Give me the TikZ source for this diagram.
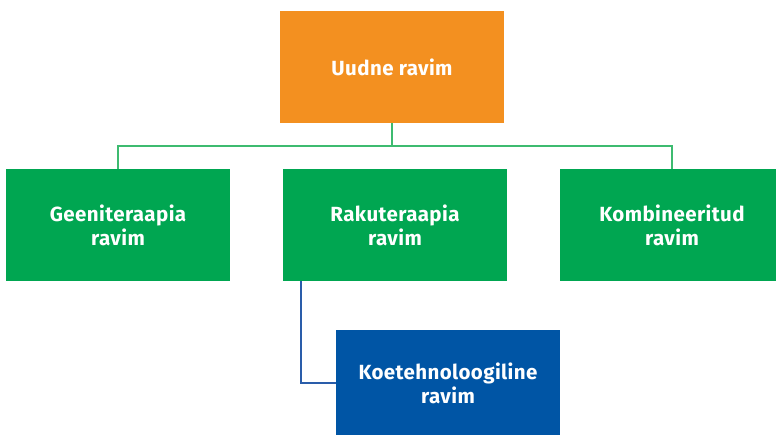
\documentclass[tikz,border=0pt]{standalone}
\usepackage{fontspec}
\setmainfont{Fira Sans}[LetterSpace=2]
\definecolor{borange}{HTML}{F39020}
\definecolor{bgreen}{HTML}{00A651}
\definecolor{bblue}{HTML}{0055A5}
\definecolor{lgreen}{HTML}{3DBB70}
\definecolor{lblue}{HTML}{2A5DAA}
\begin{document}
\begin{tikzpicture}[x=1pt,y=-1pt,
  box/.style={minimum width=224pt,minimum height=112pt,inner sep=0pt,
    text=white,align=center,font=\fontsize{20.5}{24}\selectfont\bfseries},
  gline/.style={draw=lgreen,line width=1.1pt},
  bline/.style={draw=lblue,line width=1.1pt}]
\useasboundingbox (0,0) rectangle (776,435);
\node[box,fill=borange] (top) at (392,67) {Uudne ravim};
\node[box,fill=bgreen] (g1) at (118,225) {Geeniteraapia\\ravim};
\node[box,fill=bgreen] (g2) at (395,225) {Rakuteraapia\\ravim};
\node[box,fill=bgreen] (g3) at (672,225) {Kombineeritud\\ravim};
\node[box,fill=bblue,minimum height=106pt] (b) at (448,383) {Koetehnoloogiline\\ravim};
\coordinate (j) at (392,146);
\draw[gline] (top.south) -- (j);
\draw[gline] (g1.north) |- (j) -| (g3.north);
\draw[bline] (g2.south -| 301,0) |- (b.west);
\end{tikzpicture}
\end{document}
